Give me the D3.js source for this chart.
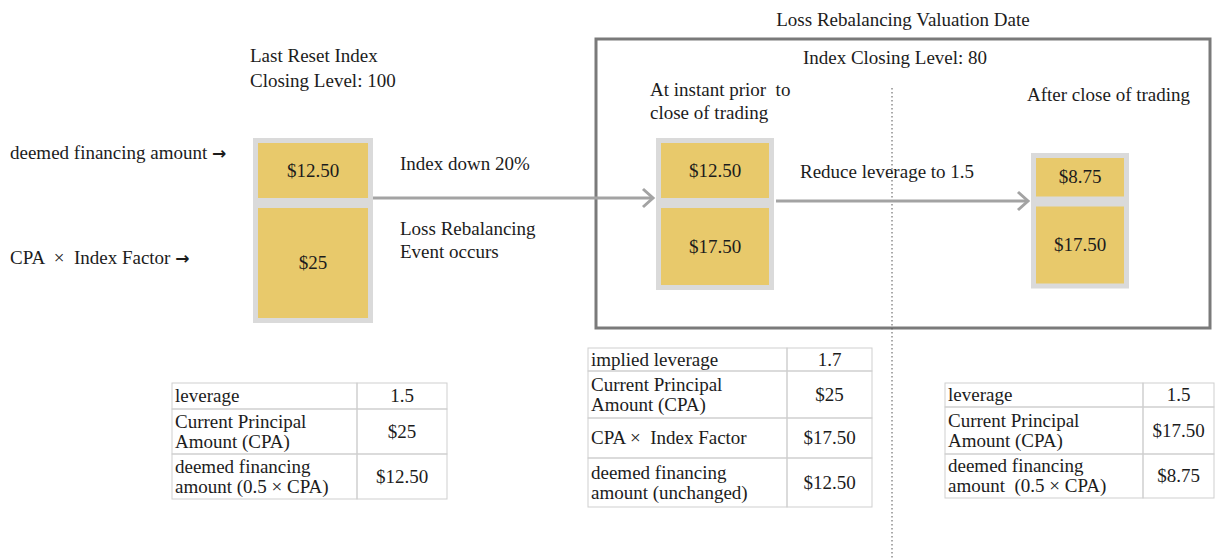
<!DOCTYPE html>
<html>
<head>
<meta charset="utf-8">
<script src="https://cdn.jsdelivr.net/npm/d3@7"></script>
</head>
<body style="margin:0; background:#fff">
<script>
// size of the drawing
var w = 1216;
var h = 558;
var serif = "'Liberation Serif'";
var fs = "19px";
var ink = "#1c1c1c";
var sp = "\u00a0";

// stacked amounts for each stage (top cell = deemed financing amount)
var stageNames = ["Last Reset", "Prior to close", "After close"];
var financingAmounts = [12.50, 12.50, 8.75];
var indexFactorAmounts = [25, 17.50, 17.50];

// table contents for each stage
var tableLabels = [
  [["leverage"], ["Current Principal", "Amount (CPA)"], ["deemed financing", "amount (0.5 \u00d7 CPA)"]],
  [["implied leverage"], ["Current Principal", "Amount (CPA)"], ["CPA \u00d7" + sp + " Index Factor"], ["deemed financing", "amount (unchanged)"]],
  [["leverage"], ["Current Principal", "Amount (CPA)"], ["deemed financing", "amount" + sp + " (0.5 \u00d7 CPA)"]]
];
var tableValues = [
  ["1.5", "$25", "$12.50"],
  ["1.7", "$25", "$17.50", "$12.50"],
  ["1.5", "$17.50", "$8.75"]
];

// layout for stacks and tables
var stackX = [258, 661, 1036];
var stackW = [110, 108, 88];
var stackTop = [143, 143, 158];
var cellGap = 10;
var pad = 5;

var tableX = [172, 588, 945];
var tableSplit = [357, 787, 1143];
var tableRight = [447, 872, 1214];
var tableRows = [
  [383, 409, 454, 499],
  [348, 371, 418, 458, 507],
  [383, 407, 454, 498]
];

var yellow = "#e8c96b";
var frame = "#dadada";

// amount to pixel height
var amountScale = d3.scaleLinear().domain([0, 25]).range([0, 110]);

var svg = d3.select("body")
            .append("svg")
            .attr("width", w)
            .attr("height", h);

// helper for serif text
function addText(parent, x, y, str, anchor) {
  return parent.append("text")
     .attr("x", x)
     .attr("y", y)
     .attr("text-anchor", anchor || "start")
     .style("font-family", serif)
     .style("font-size", fs)
     .style("fill", ink)
     .text(str);
}

// big valuation date box
svg.append("rect")
   .attr("x", 596).attr("y", 39)
   .attr("width", 614).attr("height", 289)
   .attr("fill", "none")
   .attr("stroke", "#7a7a7a")
   .attr("stroke-width", 3);

// dotted separator
svg.append("line")
   .attr("x1", 892).attr("x2", 892)
   .attr("y1", 88).attr("y2", h)
   .attr("stroke", "#555")
   .attr("stroke-width", 1)
   .attr("stroke-dasharray", "1.5,2.5");

// arrows
function arrow(x1, x2, y) {
  svg.append("line")
     .attr("x1", x1).attr("x2", x2 - 2)
     .attr("y1", y).attr("y2", y)
     .attr("stroke", "#a3a3a3")
     .attr("stroke-width", 3);
  svg.append("path")
     .attr("d", "M" + (x2 - 10) + "," + (y - 9) + "L" + x2 + "," + y + "L" + (x2 - 10) + "," + (y + 9))
     .attr("fill", "none")
     .attr("stroke", "#a3a3a3")
     .attr("stroke-width", 3);
}
arrow(371, 653, 198);
arrow(776, 1028, 201);

// stacks
stageNames.forEach(function(name, i) {
  var topH = amountScale(financingAmounts[i]);
  var botH = amountScale(indexFactorAmounts[i]);
  var y0 = stackTop[i];
  var g = svg.append("g");

  g.append("rect")
   .attr("x", stackX[i] - pad).attr("y", y0 - pad)
   .attr("width", stackW[i] + 2 * pad)
   .attr("height", topH + cellGap + botH + 2 * pad)
   .attr("fill", frame);

  var cells = [
    {y: y0, h: topH, v: financingAmounts[i]},
    {y: y0 + topH + cellGap, h: botH, v: indexFactorAmounts[i]}
  ];

  g.selectAll(".cell")
   .data(cells)
   .enter()
   .append("rect")
   .attr("x", stackX[i])
   .attr("y", d => d.y)
   .attr("width", stackW[i])
   .attr("height", d => d.h)
   .attr("fill", yellow);

  cells.forEach(function(d) {
    addText(g, stackX[i] + stackW[i] / 2, d.y + d.h / 2 + 6,
            "$" + (d.v % 1 === 0 ? d.v : d.v.toFixed(2)), "middle");
  });
});

// tables
tableLabels.forEach(function(rows, t) {
  var ys = tableRows[t];
  var g = svg.append("g");

  rows.forEach(function(lines, r) {
    var top = ys[r], bot = ys[r + 1];
    var mid = (top + bot) / 2;
    g.append("rect")
     .attr("x", tableX[t]).attr("y", top)
     .attr("width", tableSplit[t] - tableX[t]).attr("height", bot - top)
     .attr("fill", "none").attr("stroke", "#cfcfcf");
    g.append("rect")
     .attr("x", tableSplit[t]).attr("y", top)
     .attr("width", tableRight[t] - tableSplit[t]).attr("height", bot - top)
     .attr("fill", "none").attr("stroke", "#cfcfcf");

    lines.forEach(function(line, k) {
      addText(g, tableX[t] + 3, mid + 6 + (k - (lines.length - 1) / 2) * 20, line);
    });

    addText(g, (tableSplit[t] + tableRight[t]) / 2, mid + 6, tableValues[t][r], "middle");
  });
});

// free text labels
var labels = [
  {x: 903, y: 26, t: "Loss Rebalancing Valuation Date", a: "middle"},
  {x: 895, y: 64, t: "Index Closing Level: 80", a: "middle"},
  {x: 250, y: 62, t: "Last Reset Index"},
  {x: 250, y: 87, t: "Closing Level: 100"},
  {x: 10, y: 159, t: "deemed financing amount ", arrow: true},
  {x: 10, y: 264, t: "CPA " + sp + "\u00d7" + sp + " Index Factor ", arrow: true},
  {x: 400, y: 170, t: "Index down 20%"},
  {x: 400, y: 235, t: "Loss Rebalancing"},
  {x: 400, y: 258, t: "Event occurs"},
  {x: 650, y: 96, t: "At instant prior" + sp + " to"},
  {x: 650, y: 119, t: "close of trading"},
  {x: 800, y: 178, t: "Reduce leverage to 1.5"},
  {x: 1027, y: 101, t: "After close of trading"}
];

labels.forEach(function(d) {
  var txt = addText(svg, d.x, d.y, d.t, d.a);
  if (d.arrow) {
    txt.append("tspan")
       .style("font-family", "'DejaVu Sans'")
       .style("font-weight", "bold")
       .style("font-size", "17px")
       .text("\u2192");
  }
});
</script>
</body>
</html>
